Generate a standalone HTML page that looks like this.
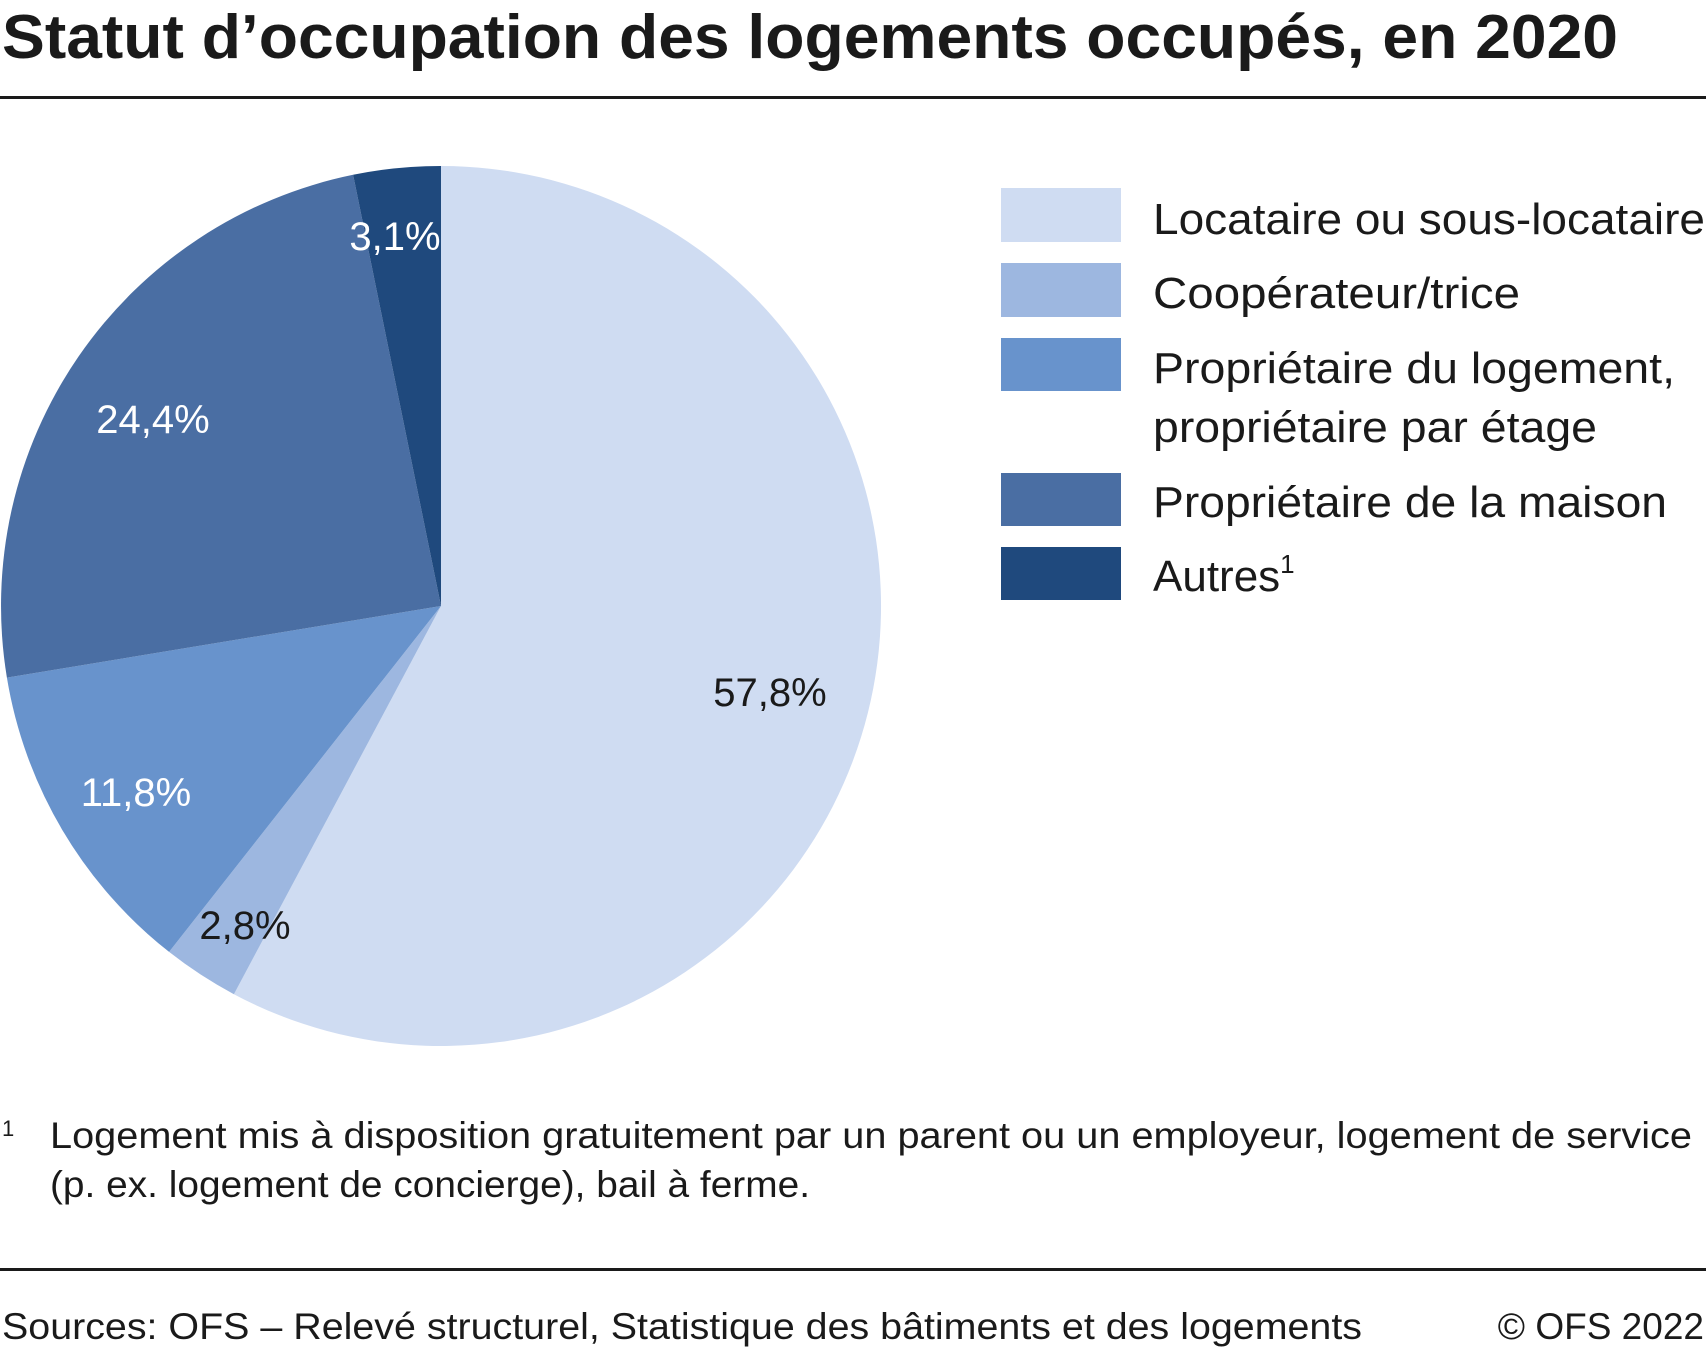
<!DOCTYPE html>
<html><head><meta charset="utf-8"><style>
body{margin:0;background:#fff;}
svg{display:block;font-family:"Liberation Sans",sans-serif;}
</style></head><body>
<svg width="1706" height="1350" viewBox="0 0 1706 1350">
<text x="2" y="58" font-size="62" font-weight="bold" fill="#1a1a1a" textLength="1616" lengthAdjust="spacingAndGlyphs">Statut d’occupation des logements occupés, en 2020</text>
<rect x="0" y="96" width="1706" height="3" fill="#1a1a1a"/>
<g stroke="none">
<path d="M441,606 L441,166 A440,440 0 1 1 233.9,994.2 Z" fill="#cfdcf2"/>
<path d="M441,606 L233.9,994.2 A440,440 0 0 1 169.1,951.9 Z" fill="#9db7e0"/>
<path d="M441,606 L169.1,951.9 A440,440 0 0 1 6.9,677.6 Z" fill="#6893cc"/>
<path d="M441,606 L6.9,677.6 A440,440 0 0 1 353.1,174.8 Z" fill="#4a6ea3"/>
<path d="M441,606 L353.1,174.8 A440,440 0 0 1 441,166 Z" fill="#1f497d"/>
</g>
<g font-size="40" text-anchor="middle">
<text x="770" y="706" fill="#1a1a1a">57,8%</text>
<text x="395" y="250" fill="#fff">3,1%</text>
<text x="153" y="433" fill="#fff">24,4%</text>
<text x="136" y="806" fill="#fff">11,8%</text>
<text x="245" y="939" fill="#1a1a1a">2,8%</text>
</g>
<rect x="1001" y="188" width="120" height="54" fill="#cfdcf2"/>
<rect x="1001" y="263" width="120" height="54" fill="#9db7e0"/>
<rect x="1001" y="338" width="120" height="53" fill="#6893cc"/>
<rect x="1001" y="473" width="120" height="53" fill="#4a6ea3"/>
<rect x="1001" y="547" width="120" height="53" fill="#1f497d"/>
<g font-size="44" fill="#1a1a1a" lengthAdjust="spacingAndGlyphs">
<text x="1153" y="234" textLength="552" lengthAdjust="spacingAndGlyphs">Locataire ou sous-locataire</text>
<text x="1153" y="308" textLength="367" lengthAdjust="spacingAndGlyphs">Coopérateur/trice</text>
<text x="1153" y="383" textLength="522" lengthAdjust="spacingAndGlyphs">Propriétaire du logement,</text>
<text x="1153" y="442" textLength="444" lengthAdjust="spacingAndGlyphs">propriétaire par étage</text>
<text x="1153" y="517" textLength="514" lengthAdjust="spacingAndGlyphs">Propriétaire de la maison</text>
<text x="1153" y="591">Autres<tspan font-size="26" dy="-18">1</tspan></text>
</g>
<g font-size="37" fill="#1a1a1a">
<text x="2" y="1136" font-size="22">1</text>
<text x="50" y="1148" textLength="1642" lengthAdjust="spacingAndGlyphs">Logement mis à disposition gratuitement par un parent ou un employeur, logement de service</text>
<text x="50" y="1197" textLength="760" lengthAdjust="spacingAndGlyphs">(p. ex. logement de concierge), bail à ferme.</text>
</g>
<rect x="0" y="1268" width="1706" height="3" fill="#1a1a1a"/>
<g font-size="37" fill="#1a1a1a">
<text x="2" y="1339" textLength="1360" lengthAdjust="spacingAndGlyphs">Sources: OFS – Relevé structurel, Statistique des bâtiments et des logements</text>
<text x="1704" y="1339" text-anchor="end">© OFS 2022</text>
</g>
</svg>
</body></html>
